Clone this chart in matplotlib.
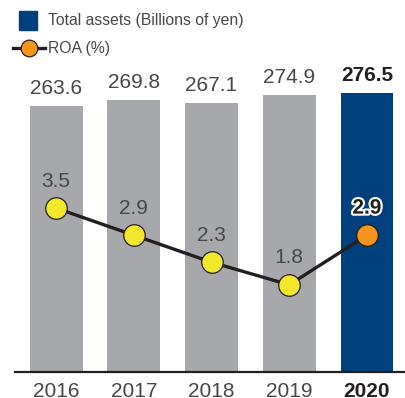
import matplotlib.pyplot as plt
import matplotlib.patheffects as pe
from matplotlib.lines import Line2D
from matplotlib.patches import Rectangle

years = ["2016", "2017", "2018", "2019", "2020"]
total_assets = [263.6, 269.8, 267.1, 274.9, 276.5]
roa = [3.5, 2.9, 2.3, 1.8, 2.9]

GRAY = "#a7a8ab"
BLUE = "#00407f"
YELLOW = "#f4e82a"
ORANGE = "#f7941d"
INK = "#231f20"
TEXT = "#474747"

plt.rcParams["font.family"] = ["Liberation Sans", "DejaVu Sans"]

fig = plt.figure(figsize=(4.05, 3.98), dpi=100)
ax = fig.add_axes([15 / 405, 26 / 398, 390 / 405, 372 / 398])
ax2 = ax.twinx()

x = list(range(len(years)))
bar_colors = [GRAY] * (len(years) - 1) + [BLUE]
ax.bar(x, total_assets, width=0.68, color=bar_colors, zorder=1)

for i, v in enumerate(total_assets):
    last = i == len(years) - 1
    ax.annotate(f"{v:.1f}", (i, v), xytext=(0, 5.5), textcoords="offset points",
                ha="center", va="bottom", fontsize=15,
                fontweight="bold" if last else "normal",
                color=INK if last else TEXT)

ax.set_xlim(-0.53, 4.49)
ax.set_ylim(0, 368.7)
ax.set_xticks(x)
ax.set_xticklabels(years, fontsize=15, color=TEXT)
ax.get_xticklabels()[-1].set_fontweight("bold")
ax.get_xticklabels()[-1].set_color(INK)
ax.tick_params(axis="x", length=0, pad=7.5)
ax.set_yticks([])
for side in ["top", "right", "left"]:
    ax.spines[side].set_visible(False)
ax.spines["bottom"].set_linewidth(1.6)
ax.spines["bottom"].set_color(INK)

# ROA line on its own scale
ax2.plot(x, roa, color=INK, linewidth=2.4, zorder=3)
marker_colors = [YELLOW] * (len(years) - 1) + [ORANGE]
for i, (v, c) in enumerate(zip(roa, marker_colors)):
    ax2.plot(i, v, "o", markersize=15.5, markerfacecolor=c,
             markeredgecolor=INK, markeredgewidth=0.9, zorder=4)
    last = i == len(years) - 1
    t = ax2.annotate(f"{v:.1f}", (i, v), xytext=(0, 19.5), textcoords="offset points",
                     ha="center", va="center", fontsize=15,
                     fontweight="bold" if last else "normal",
                     color=INK if last else TEXT, zorder=5)
    if last:
        t.set_path_effects([pe.withStroke(linewidth=3, foreground="white")])

ax2.set_ylim(-0.133, 8.115)
ax2.set_yticks([])
for side in ["top", "right", "left", "bottom"]:
    ax2.spines[side].set_visible(False)

# legend
fig.patches.append(Rectangle((19 / 405, 1 - 30 / 398), 18 / 405, 19 / 398,
                             transform=fig.transFigure, color=BLUE))
fig.text(48 / 405, 1 - 21 / 398, "Total assets (Billions of yen)", fontsize=11.3,
         color=TEXT, va="center", ha="left")
fig.lines.append(Line2D([13 / 405, 45 / 405], [1 - 48 / 398, 1 - 48 / 398],
                        transform=fig.transFigure, color=INK, linewidth=2.4))
fig.lines.append(Line2D([29 / 405], [1 - 48 / 398], transform=fig.transFigure,
                        marker="o", markersize=12, markerfacecolor=ORANGE,
                        markeredgecolor=INK, markeredgewidth=0.9))
fig.text(48 / 405, 1 - 48 / 398, "ROA (%)", fontsize=11.3, color=TEXT,
         va="center", ha="left")

fig.savefig("out.png", dpi=100)
